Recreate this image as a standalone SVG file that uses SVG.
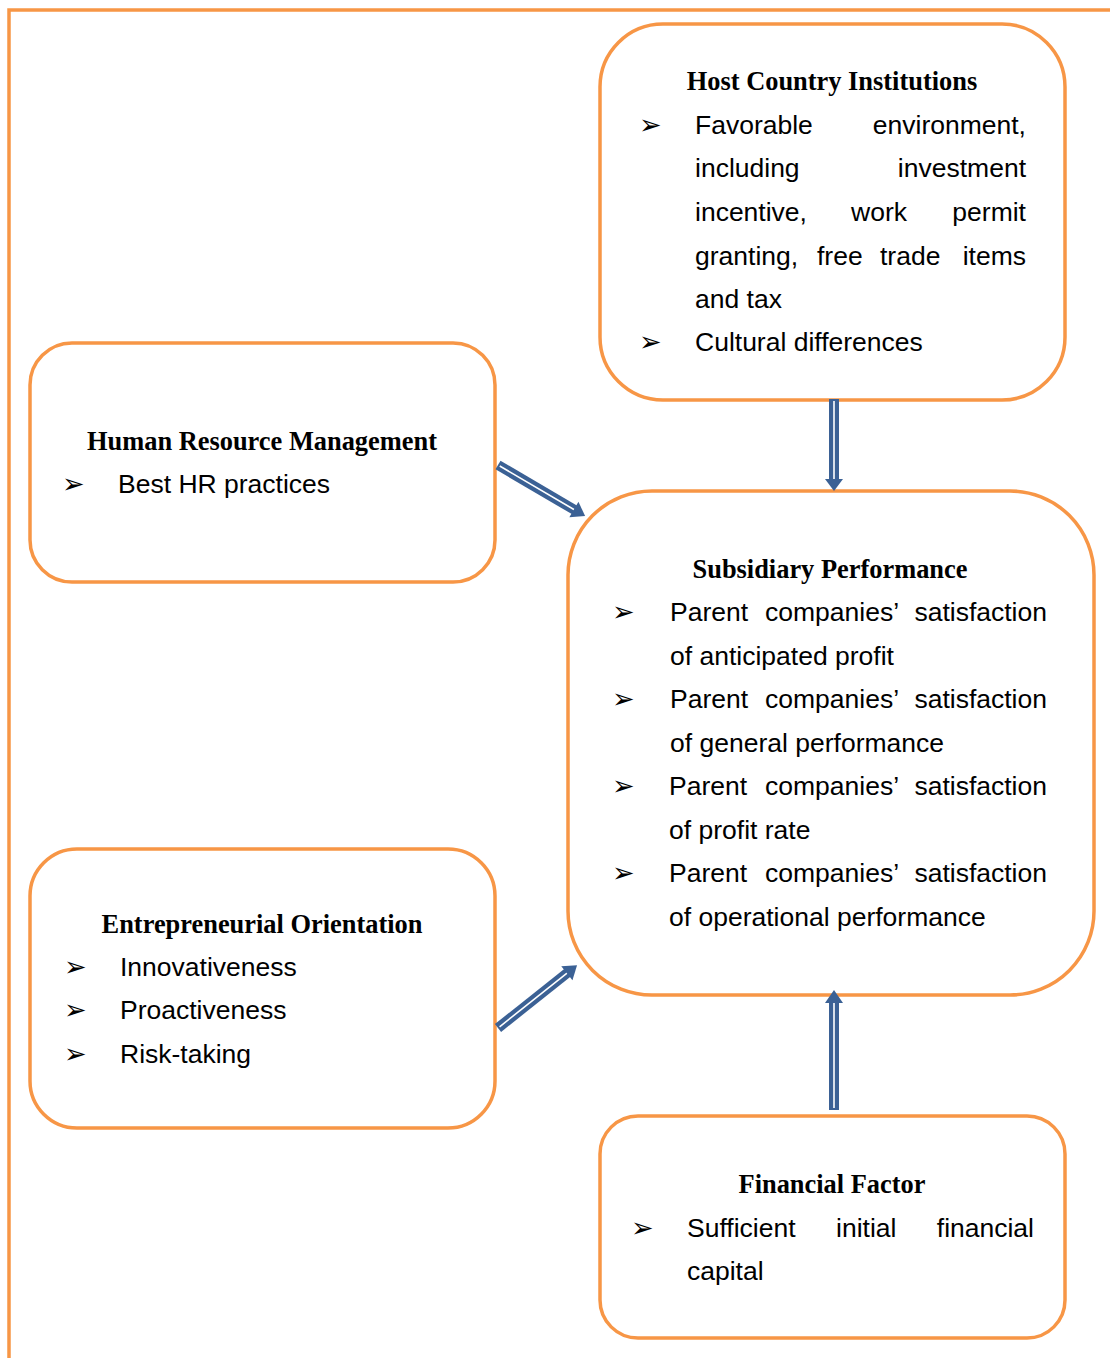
<svg xmlns="http://www.w3.org/2000/svg" width="1110" height="1358" viewBox="0 0 1110 1358">
<style>
.box{fill:#fff;stroke:#f79646;stroke-width:3.5}
.frame{fill:none;stroke:#f79646;stroke-width:3.5}
.t{font-family:"Liberation Serif","Times New Roman",serif;font-weight:bold;font-size:26.4px;text-anchor:middle;fill:#000}
.b{font-family:"Liberation Sans",Arial,sans-serif;font-size:26.5px;fill:#000}
.e{text-anchor:end}
.bu{font-family:"DejaVu Sans",sans-serif;font-size:27px;fill:#000}
.shaft{stroke:#3b6195;stroke-width:10;fill:none}
.core{stroke:#fff;stroke-width:1.6;fill:none}
.head{fill:#3b6195}
</style>
<path class="frame" d="M9,1358 V10 H1110"/>
<g id="host">
<rect class="box" x="600" y="24" width="465" height="376" rx="63"/>
<text class="t" x="832" y="90">Host Country Institutions</text>
<text class="bu" x="639" y="134">➢</text>
<text class="b" x="695" y="134">Favorable</text>
<text class="b e" x="1026" y="134">environment,</text>
<text class="b" x="695" y="177">including</text>
<text class="b e" x="1026" y="177">investment</text>
<text class="b" x="695" y="221">incentive,</text>
<text class="b" x="851" y="221">work</text>
<text class="b e" x="1026" y="221">permit</text>
<text class="b" x="695" y="265">granting,</text>
<text class="b" x="817" y="265">free</text>
<text class="b" x="880" y="265">trade</text>
<text class="b e" x="1026" y="265">items</text>
<text class="b" x="695" y="308">and tax</text>
<text class="bu" x="639" y="351">➢</text>
<text class="b" x="695" y="351">Cultural differences</text>
</g>
<g id="hrm">
<rect class="box" x="30" y="343" width="465" height="239" rx="42"/>
<text class="t" x="262" y="450">Human Resource Management</text>
<text class="bu" x="62" y="493">➢</text>
<text class="b" x="118" y="493">Best HR practices</text>
</g>
<g id="subsidiary">
<rect class="box" x="568" y="491" width="526" height="504" rx="84"/>
<text class="t" x="830" y="578">Subsidiary Performance</text>
<text class="bu" x="612" y="621">➢</text>
<text class="b" x="670" y="621">Parent</text>
<text class="b" x="765" y="621">companies’</text>
<text class="b e" x="1047" y="621">satisfaction</text>
<text class="b" x="670" y="665">of anticipated profit</text>
<text class="bu" x="612" y="708">➢</text>
<text class="b" x="670" y="708">Parent</text>
<text class="b" x="765" y="708">companies’</text>
<text class="b e" x="1047" y="708">satisfaction</text>
<text class="b" x="670" y="752">of general performance</text>
<text class="bu" x="612" y="795">➢</text>
<text class="b" x="669" y="795">Parent</text>
<text class="b" x="765" y="795">companies’</text>
<text class="b e" x="1047" y="795">satisfaction</text>
<text class="b" x="669" y="839">of profit rate</text>
<text class="bu" x="612" y="882">➢</text>
<text class="b" x="669" y="882">Parent</text>
<text class="b" x="765" y="882">companies’</text>
<text class="b e" x="1047" y="882">satisfaction</text>
<text class="b" x="669" y="926">of operational performance</text>
</g>
<g id="eo">
<rect class="box" x="30" y="849" width="465" height="279" rx="47"/>
<text class="t" x="262" y="933">Entrepreneurial Orientation</text>
<text class="bu" x="64" y="976">➢</text>
<text class="b" x="120" y="976">Innovativeness</text>
<text class="bu" x="64" y="1019">➢</text>
<text class="b" x="120" y="1019">Proactiveness</text>
<text class="bu" x="64" y="1063">➢</text>
<text class="b" x="120" y="1063">Risk-taking</text>
</g>
<g id="financial">
<rect class="box" x="600" y="1116" width="465" height="222" rx="38"/>
<text class="t" x="832" y="1193">Financial Factor</text>
<text class="bu" x="631" y="1237">➢</text>
<text class="b" x="687" y="1237">Sufficient</text>
<text class="b" x="836" y="1237">initial</text>
<text class="b e" x="1034" y="1237">financial</text>
<text class="b" x="687" y="1280">capital</text>
</g>
<g id="connectors">
<g transform="translate(498,465) rotate(30.4)">
<line class="shaft" x1="0" y1="0" x2="89" y2="0"/>
<line class="core" x1="2" y1="0" x2="89" y2="0"/>
<polygon class="head" points="88,-9 101,0 88,9"/>
</g>
<g transform="translate(834,399) rotate(90)">
<line class="shaft" x1="0" y1="0" x2="81" y2="0"/>
<line class="core" x1="2" y1="0" x2="81" y2="0"/>
<polygon class="head" points="80,-9 92,0 80,9"/>
</g>
<g transform="translate(498,1028) rotate(-38.5)">
<line class="shaft" x1="0" y1="0" x2="89" y2="0"/>
<line class="core" x1="2" y1="0" x2="89" y2="0"/>
<polygon class="head" points="88,-9 101,0 88,9"/>
</g>
<g transform="translate(834,1110) rotate(-90)">
<line class="shaft" x1="0" y1="0" x2="108" y2="0"/>
<line class="core" x1="2" y1="0" x2="108" y2="0"/>
<polygon class="head" points="107,-9 120,0 107,9"/>
</g>
</g>
</svg>
